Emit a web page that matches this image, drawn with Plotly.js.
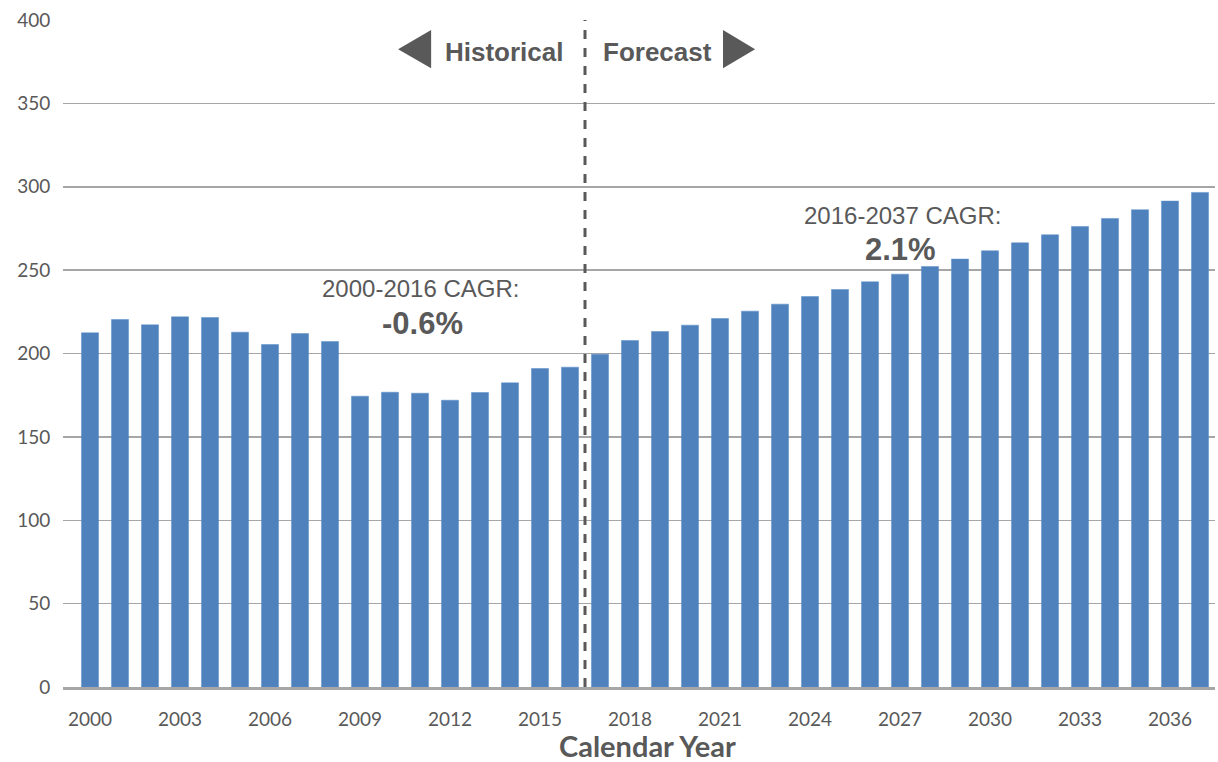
<!DOCTYPE html>
<html>
<head>
<meta charset="utf-8">
<script src="https://cdn.plot.ly/plotly-3.0.1.min.js"></script>
<style>html,body{margin:0;padding:0;background:#fff;}#chart{width:1218px;height:762px;}</style>
</head>
<body>
<div id="chart"></div>
<script>
const years = [2000,2001,2002,2003,2004,2005,2006,2007,2008,2009,2010,2011,2012,2013,2014,2015,2016,2017,2018,2019,2020,2021,2022,2023,2024,2025,2026,2027,2028,2029,2030,2031,2032,2033,2034,2035,2036,2037];
const values = [212.4,220.4,217.2,222,221.6,212.8,205.4,212,207.2,174.4,176.8,176.2,172,176.6,182.4,191,191.8,199.6,207.8,213.2,217,221,225.4,229.6,234.2,238.4,243,247.6,252.2,256.6,261.6,266.4,271.2,276.2,281,286.2,291.4,296.6];
const tickYears = [2000,2003,2006,2009,2012,2015,2018,2021,2024,2027,2030,2033,2036];
const yTicks = [0,50,100,150,200,250,300,350,400];
const splitYear = 2016.5;
const histLabel = "Historical";
const foreLabel = "Forecast";
const cagrHistLabel = "2000-2016 CAGR:";
const cagrHistValue = "-0.6%";
const cagrForeLabel = "2016-2037 CAGR:";
const cagrForeValue = "2.1%";
const xTitle = "Calendar Year";

const grey = "#595959";
const trace = {
  type: "bar",
  x: years,
  y: values,
  marker: {color: "#4f81bd", line: {color: "#5b8ec9", width: 0.5}},
  hoverinfo: "x+y"
};

const arial = "'Liberation Sans', Arial, sans-serif";
const lato = "Lato, 'Open Sans', sans-serif";

const layout = {
  width: 1218, height: 762,
  margin: {l: 63, r: 3, t: 20, b: 75},
  paper_bgcolor: "#fff", plot_bgcolor: "#fff",
  bargap: 0.43,
  showlegend: false,
  font: {family: lato, color: grey},
  xaxis: {
    range: [1999.1, 2037.5],
    tickmode: "array", tickvals: tickYears, ticktext: tickYears.map(String),
    tickfont: {size: 19, color: grey, family: lato},
    ticks: "outside", ticklen: 13, tickcolor: "rgba(0,0,0,0)",
    showgrid: false, zeroline: false,
    showline: true, linecolor: "#a6a6a6", linewidth: 3
  },
  yaxis: {
    range: [0, 400],
    tickmode: "array", tickvals: yTicks,
    tickfont: {size: 19, color: grey, family: lato},
    ticks: "outside", ticklen: 8, tickcolor: "rgba(0,0,0,0)",
    showgrid: true, gridcolor: "#a6a6a6", gridwidth: 1.5,
    zeroline: false, showline: false
  },
  shapes: [
    {type: "line", xref: "x", yref: "y", x0: splitYear, x1: splitYear, y0: 0, y1: 400,
     line: {color: "#595959", width: 3, dash: "dash"}},
    {type: "path", xref: "x", yref: "y",
     path: "M 2010.27 382.5 L 2011.37 394 L 2011.37 371 Z",
     fillcolor: grey, line: {width: 0}},
    {type: "path", xref: "x", yref: "y",
     path: "M 2022.17 382.5 L 2021.1 394 L 2021.1 371 Z",
     fillcolor: grey, line: {width: 0}}
  ],
  annotations: [
    {xref: "x", yref: "y", x: 2013.8, y: 381, text: histLabel, showarrow: false,
     font: {family: arial, size: 26, color: grey, weight: "bold"}},
    {xref: "x", yref: "y", x: 2018.9, y: 381, text: foreLabel, showarrow: false,
     font: {family: arial, size: 26, color: grey, weight: "bold"}},
    {xref: "x", yref: "y", x: 2011.03, y: 239.2, text: cagrHistLabel, showarrow: false,
     font: {family: arial, size: 24, color: grey}},
    {xref: "x", yref: "y", x: 2011.07, y: 218.2, text: cagrHistValue, showarrow: false,
     font: {family: arial, size: 31, color: grey, weight: "bold"}},
    {xref: "x", yref: "y", x: 2027.07, y: 283, text: cagrForeLabel, showarrow: false,
     font: {family: arial, size: 24, color: grey}},
    {xref: "x", yref: "y", x: 2027.03, y: 262.6, text: cagrForeValue, showarrow: false,
     font: {family: arial, size: 31, color: grey, weight: "bold"}},
    {xref: "paper", yref: "paper", x: 0.507, y: 0, yshift: -58, yanchor: "middle",
     text: xTitle, showarrow: false,
     font: {family: lato, size: 29, color: grey, weight: "bold"}}
  ]
};

Plotly.newPlot("chart", [trace], layout, {displayModeBar: false, staticPlot: true});
</script>
</body>
</html>
